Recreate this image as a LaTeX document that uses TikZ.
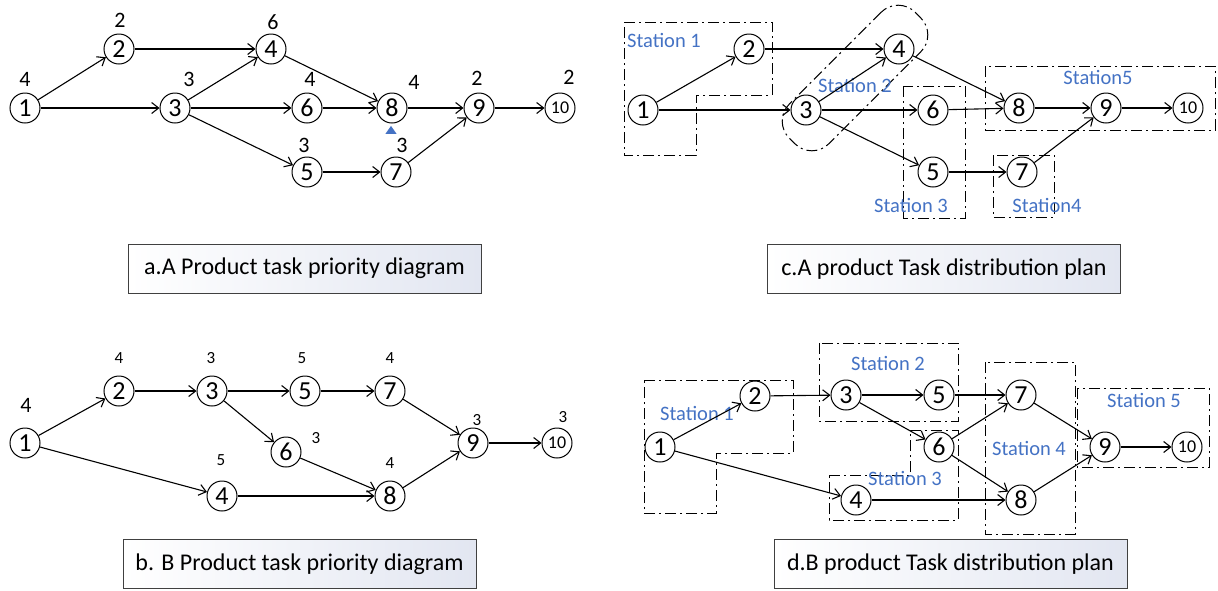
\documentclass[tikz,border=0pt]{standalone}
\usepackage{fontspec}
\setmainfont{Carlito}
\usepackage{xcolor}
\usepackage{tikz}
\usetikzlibrary{arrows.meta, shapes.geometric}
\definecolor{stationcolor}{HTML}{4472C4}
\definecolor{framecolor}{HTML}{404040}
\definecolor{captionfill}{HTML}{E2E6F1}

\tikzset{
  task/.style={circle, draw, line width=1pt, fill=white, minimum size=30pt,
    inner sep=0pt, font=\fontsize{26}{26}\selectfont},
  tasksmall/.style={task, font=\fontsize{18}{18}\selectfont},
  edge/.style={-{Straight Barb[length=7pt,width=11pt]}, line width=1.1pt},
  weight/.style={font=\fontsize{22}{22}\selectfont},
  weightsmall/.style={font=\fontsize{17}{17}\selectfont},
  station/.style={dash pattern=on 11pt off 4pt on 2pt off 4pt, line width=1pt},
  stationlabel/.style={text=stationcolor, font=\fontsize{20.5}{20.5}\selectfont},
  caption/.style={draw=framecolor, line width=0.8pt, left color=white,
    right color=captionfill, minimum width=353pt, minimum height=49pt,
    font=\fontsize{24}{24}\selectfont}
}

\begin{document}
\begin{tikzpicture}[x=1pt, y=-1pt]
  \useasboundingbox (0,0) rectangle (1218,590);

  % a. A product priority diagram
  \foreach \n/\x/\y in {1/25/108, 2/119/49, 3/175/108, 4/271/49, 5/307/172,
                        6/307/108, 7/396/172, 8/392/108, 9/479/108} {
    \node[task] (a\n) at (\x,\y) {\n};
  }
  \node[tasksmall] (a10) at (560,108) {10};
  \foreach \n/\x/\y/\w in {1/25/79/4, 2/120/20/2, 4/273/22/6, 3/189/79/3,
                           6/310/79/4, 8/414/82/4, 9/477/78/2, 10/569/77/2,
                           5/304/145/3, 7/402/145/3} {
    \node[weight] (wa\n) at (\x,\y) {\w};
  }
  \node[isosceles triangle, isosceles triangle apex angle=70, shape border rotate=90,
    fill=stationcolor, inner sep=0pt, minimum size=8pt] (mark) at (391,131) {};
  \foreach \s/\t in {1/2, 1/3, 2/4, 3/4, 3/6, 3/5, 4/8, 6/8, 8/9, 5/7, 7/9, 9/10} {
    \draw[edge] (a\s) -- (a\t);
  }
  \node[caption] (capa) at (304.5,268.5) {a.A Product task priority diagram};

  % b. B product priority diagram
  \foreach \n/\x/\y in {1/25/443, 2/119/391, 3/212/391, 5/305/391, 7/390/391,
                        6/286/452, 4/222/496, 8/390/496, 9/473/443} {
    \node[task] (b\n) at (\x,\y) {\n};
  }
  \node[tasksmall] (b10) at (557,443) {10};
  \node[weight] (wb1) at (26,405) {4};
  \foreach \n/\x/\y/\w in {2/119/358/4, 3/211/358/3, 5/302/358/5, 7/390/358/4,
                           6/316/438/3, 4/221/460/5, 8/390/463/4, 9/477/420/3,
                           10/563/417/3} {
    \node[weightsmall] (wb\n) at (\x,\y) {\w};
  }
  \foreach \s/\t in {1/2, 1/4, 2/3, 3/5, 3/6, 5/7, 7/9, 6/8, 4/8, 8/9, 9/10} {
    \draw[edge] (b\s) -- (b\t);
  }
  \node[caption] (capb) at (299.5,564) {b. B Product task priority diagram};

  % c. A product stations
  \draw[station] (624,22) -- (772,22) -- (772,95) -- (696,95) -- (696,155)
    -- (624,155) -- cycle;
  \node[draw, station, rotate=45, minimum width=178pt, minimum height=56pt,
    rounded corners=24pt] (stc2) at (855,78) {};
  \draw[station] (903,86) rectangle (965,218);
  \draw[station] (993,155) rectangle (1054,217);
  \draw[station] (985,66) rectangle (1215,130);
  \node[stationlabel] (lc1) at (664,40) {Station 1};
  \node[stationlabel] (lc2) at (855,85) {Station 2};
  \node[stationlabel] (lc3) at (911,205) {Station 3};
  \node[stationlabel] (lc4) at (1047,205) {Station4};
  \node[stationlabel] (lc5) at (1098,77) {Station5};
  \foreach \n/\x/\y in {1/643/110, 2/749/49, 4/899/49, 3/806/110, 6/933/110,
                        8/1019/108, 9/1106/108, 5/933/172, 7/1022/172} {
    \node[task] (c\n) at (\x,\y) {\n};
  }
  \node[tasksmall] (c10) at (1188,108) {10};
  \foreach \s/\t in {1/2, 1/3, 2/4, 3/4, 3/6, 3/5, 4/8, 6/8, 8/9, 5/7, 7/9, 9/10} {
    \draw[edge] (c\s) -- (c\t);
  }
  \node[caption] (capc) at (944,269) {c.A product Task distribution plan};

  % d. B product stations
  \draw[station] (644,380) -- (793,380) -- (793,453) -- (716,453) -- (716,513)
    -- (644,513) -- cycle;
  \draw[station] (819,343) rectangle (958,421);
  \draw[station] (829,475) -- (910,475) -- (910,430) -- (958,430) -- (958,520)
    -- (829,520) -- cycle;
  \draw[station] (985,362) rectangle (1075,534);
  \draw[station] (1077,388) rectangle (1209,467);
  \node[stationlabel] (ld1) at (697,413) {Station 1};
  \node[stationlabel] (ld2) at (888,363) {Station 2};
  \node[stationlabel] (ld3) at (905,478) {Station 3};
  \node[stationlabel] (ld4) at (1029,448) {Station 4};
  \node[stationlabel] (ld5) at (1144,400) {Station 5};
  \foreach \n/\x/\y in {1/660/447, 2/755/396, 3/846/395, 5/939/395, 7/1021/395,
                        6/939/447, 4/856/500, 8/1021/500, 9/1105/447} {
    \node[task] (d\n) at (\x,\y) {\n};
  }
  \node[tasksmall] (d10) at (1187,447) {10};
  \foreach \s/\t in {1/2, 1/4, 2/3, 3/5, 3/6, 5/7, 6/7, 6/8, 4/8, 7/9, 8/9, 9/10} {
    \draw[edge] (d\s) -- (d\t);
  }
  \node[caption] (capd) at (950.5,564) {d.B product Task distribution plan};
\end{tikzpicture}
\end{document}
